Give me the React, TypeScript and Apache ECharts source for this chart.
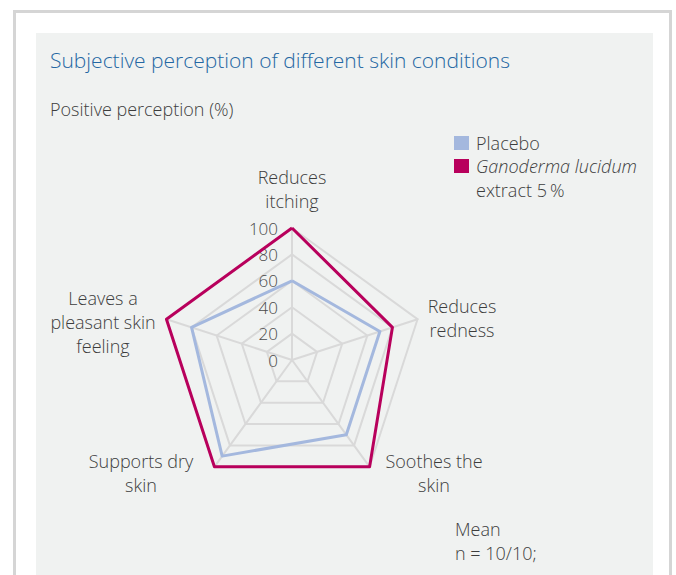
import React, { useEffect, useRef } from 'react';
import * as echarts from 'echarts';

// Indicators listed in ECharts' counterclockwise order, starting at the top.
const indicatorNames = [
  'Reduces\nitching',
  'Leaves a\npleasant skin\nfeeling',
  'Supports dry\nskin',
  'Soothes the\nskin',
  'Reduces\nredness',
];
const placeboValues = [60, 80, 90, 70, 70];
const ganodermaValues = [100, 100, 100, 100, 80];
const seriesNames = ['Placebo', 'Ganoderma lucidum extract 5\u2009%'];
const axisMin = 0;
const axisMax = 100;
const axisSplits = 5;
const titleText = 'Subjective perception of different skin conditions';
const subtitleText = 'Positive perception (%)';
const noteText = 'Mean\nn = 10/10;';

const namePositions = [
  [292, 189],
  [103, 322],
  [141, 473],
  [434, 473],
  [462, 318],
];

const FONT = "'Open Sans', 'Noto Sans', sans-serif";
const TEXT = '#3d3d3d';
const BLUE = '#a4b8de';
const RED = '#b8005c';
const GRID = '#d9d9d9';

export default function App() {
  const ref = useRef<HTMLDivElement>(null);
  useEffect(() => {
    if (!ref.current) return;
    const chart = echarts.init(ref.current, undefined, { renderer: 'svg' });
    const txt = (x: number, y: number, text: string, extra: any = {}) => ({
      type: 'text',
      x,
      y,
      z: 100,
      style: {
        text,
        fontFamily: FONT,
        fontWeight: 300,
        fontSize: 18,
        fill: TEXT,
        lineHeight: 24,
        ...extra,
      },
    });
    chart.setOption({
      animation: false,
      radar: {
        center: [292, 360],
        radius: 132,
        startAngle: 90,
        shape: 'polygon',
        splitNumber: axisSplits,
        indicator: indicatorNames.map((name, i) => ({
          name,
          min: axisMin,
          max: axisMax,
          ...(i === 0 ? { axisLabel: { show: true } } : {}),
        })),
        axisName: { show: false },
        splitArea: { show: false },
        splitLine: { lineStyle: { color: GRID, width: 2 } },
        axisLine: { lineStyle: { color: GRID, width: 2 } },
        axisTick: { show: false },
        axisLabel: {
          show: false,
          showMinLabel: true,
          showMaxLabel: true,
          margin: 14,
          color: '#4a4a4a',
          fontSize: 17,
          fontFamily: FONT,
          fontWeight: 300,
        },
      },
      series: [
        {
          type: 'radar',
          symbol: 'none',
          z: 3,
          data: [
            {
              name: seriesNames[0],
              value: placeboValues,
              lineStyle: { color: BLUE, width: 3 },
              itemStyle: { color: BLUE },
            },
          ],
        },
        {
          type: 'radar',
          symbol: 'none',
          z: 4,
          data: [
            {
              name: seriesNames[1],
              value: ganodermaValues,
              lineStyle: { color: RED, width: 3 },
              itemStyle: { color: RED },
            },
          ],
        },
      ],
      graphic: [
        {
          type: 'rect',
          z: -10,
          shape: { x: 14.5, y: 11.5, width: 656, height: 620 },
          style: { fill: '#ffffff', stroke: '#d5d5d5', lineWidth: 3 },
        },
        {
          type: 'rect',
          z: -9,
          shape: { x: 36, y: 33, width: 617, height: 600 },
          style: { fill: '#f0f2f1' },
        },
        txt(50, 60, titleText, { fontSize: 21, fill: '#2467a3', textVerticalAlign: 'middle' }),
        txt(50, 109, subtitleText, { textVerticalAlign: 'middle' }),
        {
          type: 'rect',
          z: 100,
          shape: { x: 454, y: 136, width: 15, height: 14 },
          style: { fill: BLUE },
        },
        {
          type: 'rect',
          z: 100,
          shape: { x: 454, y: 159, width: 15, height: 14 },
          style: { fill: RED },
        },
        txt(476, 143, 'Placebo', { textVerticalAlign: 'middle' }),
        txt(476, 166, 'Ganoderma lucidum', { textVerticalAlign: 'middle', fontStyle: 'italic' }),
        txt(476, 190, 'extract 5\u2009%', { textVerticalAlign: 'middle' }),
        ...indicatorNames.map((name, i) =>
          txt(namePositions[i][0], namePositions[i][1], name, {
            textAlign: 'center',
            textVerticalAlign: 'middle',
          })
        ),
        txt(455, 541, noteText, { textVerticalAlign: 'middle' }),
      ],
    });
    return () => chart.dispose();
  }, []);
  return (
    <div
      ref={ref}
      style={{ position: 'absolute', left: 0, top: 0, width: 676, height: 575 }}
    />
  );
}
